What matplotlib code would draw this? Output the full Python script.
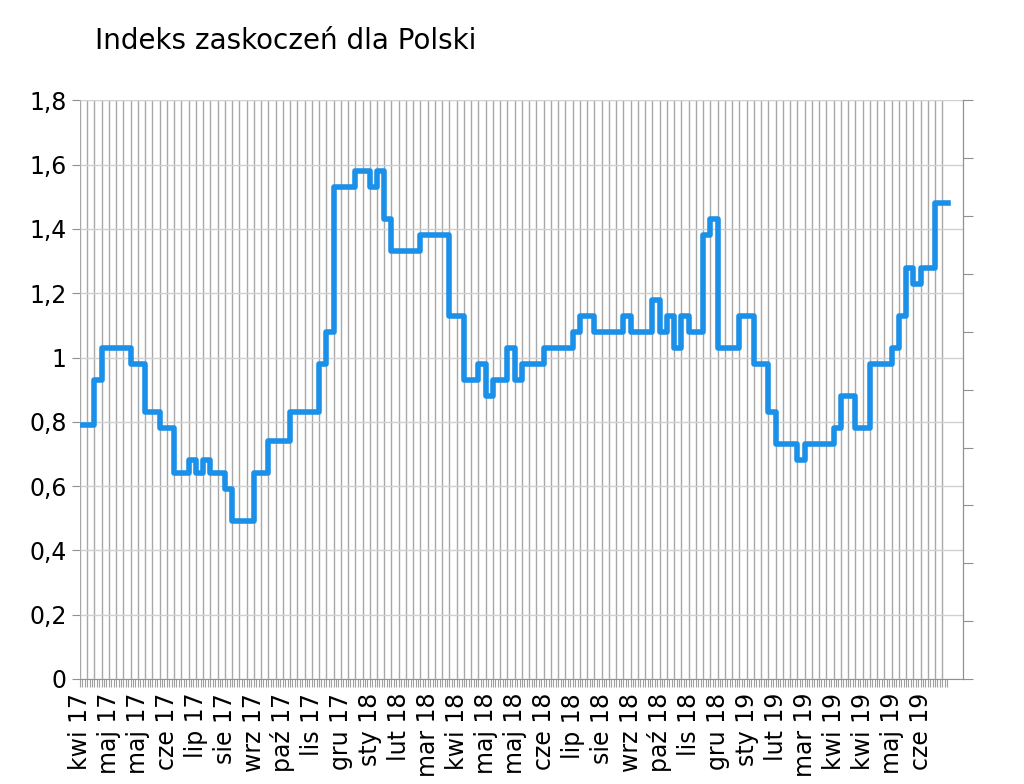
import matplotlib
matplotlib.use("Agg")
import matplotlib.pyplot as plt
import numpy as np

# weekly values of the surprise index
values = [
    0.79, 0.79, 0.93, 1.03, 1.03, 1.03, 1.03, 0.98, 0.98, 0.83,
    0.83, 0.78, 0.78, 0.64, 0.64, 0.68, 0.64, 0.68, 0.64, 0.64,
    0.59, 0.49, 0.49, 0.49, 0.64, 0.64, 0.74, 0.74, 0.74, 0.83,
    0.83, 0.83, 0.83, 0.98, 1.08, 1.53, 1.53, 1.53, 1.58, 1.58,
    1.53, 1.58, 1.43, 1.33, 1.33, 1.33, 1.33, 1.38, 1.38, 1.38,
    1.38, 1.13, 1.13, 0.93, 0.93, 0.98, 0.88, 0.93, 0.93, 1.03,
    0.93, 0.98, 0.98, 0.98, 1.03, 1.03, 1.03, 1.03, 1.08, 1.13,
    1.13, 1.08, 1.08, 1.08, 1.08, 1.13, 1.08, 1.08, 1.08, 1.18,
    1.08, 1.13, 1.03, 1.13, 1.08, 1.08, 1.38, 1.43, 1.03, 1.03,
    1.03, 1.13, 1.13, 0.98, 0.98, 0.83, 0.73, 0.73, 0.73, 0.68,
    0.73, 0.73, 0.73, 0.73, 0.78, 0.88, 0.88, 0.78, 0.78, 0.98,
    0.98, 0.98, 1.03, 1.13, 1.28, 1.23, 1.28, 1.28, 1.48, 1.48,
]
tick_labels = [
    "kwi 17", "maj 17", "maj 17", "cze 17", "lip 17", "sie 17", "wrz 17",
    "paź 17", "lis 17", "gru 17", "sty 18", "lut 18", "mar 18", "kwi 18",
    "maj 18", "maj 18", "cze 18", "lip 18", "sie 18", "wrz 18", "paź 18",
    "lis 18", "gru 18", "sty 19", "lut 19", "mar 19", "kwi 19", "kwi 19",
    "maj 19", "cze 19",
]
y_labels = ["0", "0,2", "0,4", "0,6", "0,8", "1", "1,2", "1,4", "1,6", "1,8"]

plt.rcParams["font.family"] = "DejaVu Sans"
fig = plt.figure(figsize=(10.24, 7.84), dpi=100)
ax = fig.add_axes([0.078, 0.134, 0.862, 0.738])

x = np.arange(len(values))
ax.plot(np.append(x, len(values) - 0.2), values + [values[-1]],
        drawstyle="steps-post", color="#1a90e8", lw=4, zorder=3)

ax.set_xlim(0, 121.8)
ax.set_ylim(0, 1.8)
ax.set_yticks(np.arange(0, 1.81, 0.2))
ax.set_yticklabels(y_labels, fontsize=17)
ax.yaxis.grid(True, color="#d0d0d0", lw=1)
for xv in x:
    ax.axvline(xv, color="#a8a8a8", lw=1, zorder=1)

ax.set_xticks(np.arange(0, len(tick_labels) * 4, 4))
ax.set_xticklabels(tick_labels, rotation=90, fontsize=17)
ax.set_xticks(np.arange(0, 120, 1 / 3), minor=True)
ax.tick_params(axis="x", which="minor", length=6, color="#a0a0a0", width=0.8)
ax.tick_params(axis="x", which="major", length=6, color="#a0a0a0", pad=4)
ax.tick_params(axis="y", length=6, color="#909090")

for s in ["top", "left"]:
    ax.spines[s].set_visible(False)
ax.spines["bottom"].set_color("#909090")
ax.spines["right"].set_color("#909090")

ax2 = ax.twinx()
ax2.set_ylim(0, 1)
ax2.set_yticks(np.linspace(0, 1, 11))
ax2.set_yticklabels([])
ax2.tick_params(axis="y", length=7, color="#909090")
for s in ["top", "left", "bottom"]:
    ax2.spines[s].set_visible(False)
ax2.spines["right"].set_color("#909090")

fig.text(0.093, 0.948, "Indeks zaskoczeń dla Polski", fontsize=20, va="center")

fig.savefig("out.png", dpi=100)
